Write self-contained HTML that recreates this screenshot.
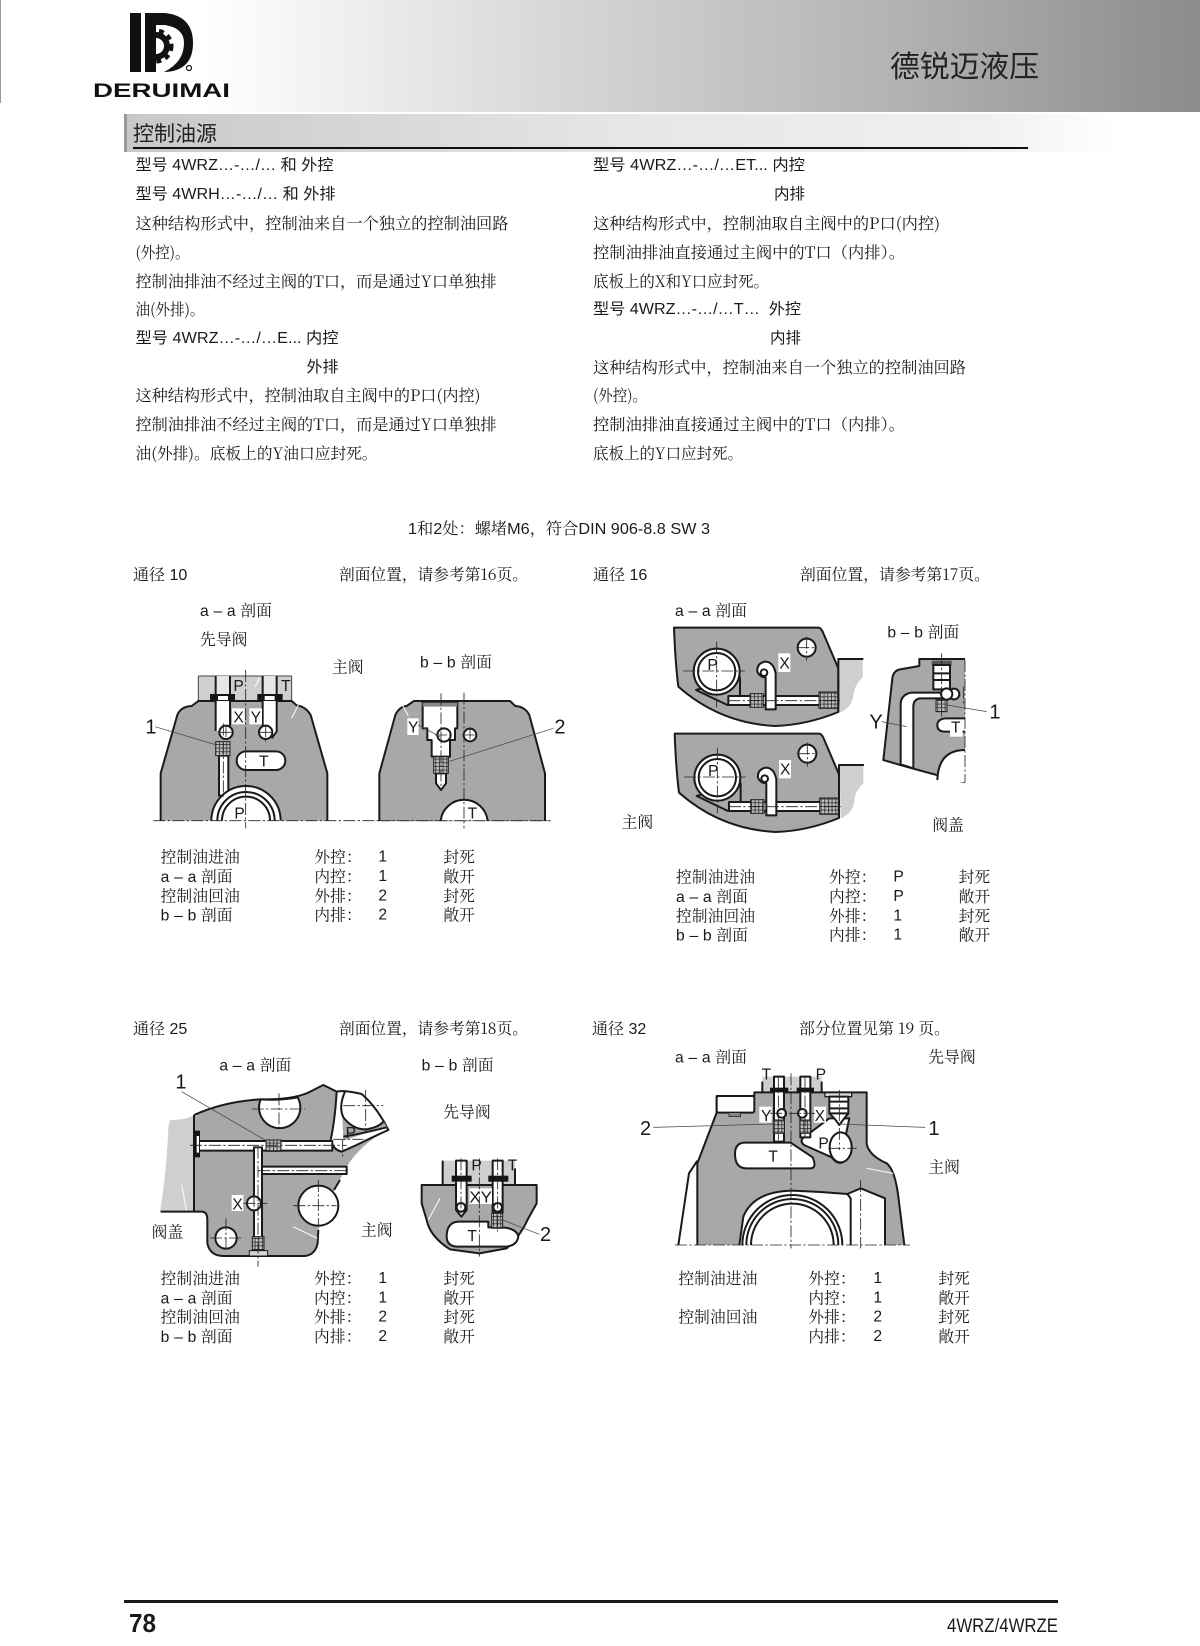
<!DOCTYPE html>
<html><head><meta charset="utf-8"><style>
html,body{margin:0;padding:0;background:#fff}
svg{display:block}
text{fill:#1a1a1a;white-space:pre}
.b{font-family:"Noto Serif CJK SC","Liberation Serif",serif;font-size:16px}
.m{font-family:"Liberation Sans","Noto Serif CJK SC",sans-serif;font-size:16px}
.g{font-family:"Liberation Sans","Noto Sans CJK SC",sans-serif;font-size:15.5px}
.t{font-family:"Liberation Sans","Noto Serif CJK SC",sans-serif;font-size:47px;letter-spacing:.6px}
.l{font-family:"Liberation Sans",sans-serif;font-size:47px}
.n{font-family:"Liberation Sans",sans-serif;font-size:60px}
.o{stroke:#1a1a1a;stroke-width:6;stroke-linejoin:round}
.f{fill:none;stroke:#1a1a1a;stroke-width:6;stroke-linejoin:round}
.w{fill:#fff}.y{fill:#a8a8a8}.p{fill:#cfcfcf}
.c{stroke:#222;stroke-width:2.5;stroke-dasharray:36 7 7 7;fill:none}
.d{stroke:#444;stroke-width:2.2;fill:none}
.e{stroke:#fff;stroke-width:3;fill:none}
.h{fill:url(#h);stroke:#222;stroke-width:3}
</style></head><body>
<svg xmlns="http://www.w3.org/2000/svg" width="1200" height="1646" viewBox="0 0 1200 1646">
<defs>
<linearGradient id="hg" x1="0" x2="1" y1="0" y2="0"><stop offset="0.17" stop-color="#fff"/><stop offset="0.5" stop-color="#d2d2d2"/><stop offset="0.75" stop-color="#b2b2b2"/><stop offset="1" stop-color="#8b8b8b"/></linearGradient>
<linearGradient id="sg" x1="0" x2="1" y1="0" y2="0"><stop offset="0" stop-color="#c8c8c8"/><stop offset="0.5" stop-color="#e6e6e6"/><stop offset="0.87" stop-color="#f0f0f0"/><stop offset="1" stop-color="#fff"/></linearGradient>
<pattern id="h" width="11" height="11" patternUnits="userSpaceOnUse"><rect width="11" height="11" fill="#bcbcbc"/><rect width="11" height="2.5" fill="#333"/><rect width="2.5" height="11" fill="#333"/></pattern>
<clipPath id="c1"><rect x="200" y="560" width="360" height="132"/></clipPath>
<clipPath id="cg"><rect x="156" y="20" width="30" height="52"/></clipPath>
<g id="d2a">
<path class="y o" d="M222,113H655Q662,113 668,125L715,235V366Q620,405 525,408Q360,400 235,290Q226,220 222,113Z"/>
<path class="p" d="M717,207H788V262Q762,285 760,320Q755,352 720,368Z"/>
<path class="f" d="M790,207H715V366"/>
<path class="y o" d="M288,300L382,345L420,315V262Z"/>
<circle class="w o" cx="350" cy="245" r="69"/>
<circle class="w o" cx="350" cy="245" r="56"/>
<rect class="w o" x="385" y="318" width="330" height="27"/>
<rect class="h" x="450" y="311" width="40" height="41"/>
<rect class="h" x="657" y="306" width="56" height="49"/>
<path class="w o" d="M497,358H527V250Q520,215 495,215Q470,220 472,245Q480,262 497,262Z"/>
<circle class="w o" cx="492" cy="248" r="10"/>
<circle class="w o" cx="620" cy="173" r="27"/>
<path class="c" d="M592,173H650M620,140V212M250,243H435M350,155V352M385,332H725"/>
</g>
</defs>
<rect width="1200" height="1646" fill="#fff"/>
<rect width="1200" height="112" fill="url(#hg)"/>
<rect x="0" y="0" width="1" height="103" fill="#999"/>
<!-- logo -->
<rect x="130" y="13" width="11" height="59" fill="#111"/>
<path fill="#111" d="M145,13H165Q193,16 193,43Q193,70 166,72H145Z"/>
<path fill="#fff" d="M156,25H165Q184,28 184,43Q184,62 164,72H156Z"/>
<g clip-path="url(#cg)">
<circle cx="156" cy="46" r="11" fill="none" stroke="#111" stroke-width="6"/>
<circle cx="156" cy="46" r="15.5" fill="none" stroke="#111" stroke-width="4" stroke-dasharray="5 4.5"/>
</g>
<circle cx="189" cy="68" r="2.5" fill="none" stroke="#111" stroke-width="1.2"/>
<text x="93" y="97" textLength="137" lengthAdjust="spacingAndGlyphs" style="font:bold 19px 'Liberation Sans',sans-serif;fill:#111">DERUIMAI</text>
<text x="890" y="77" textLength="149" lengthAdjust="spacingAndGlyphs" style="font:30px 'Noto Sans CJK SC','Liberation Sans',sans-serif;fill:#222">德锐迈液压</text>
<!-- section -->
<rect x="124" y="114" width="991" height="38" fill="url(#sg)"/>
<rect x="124" y="114" width="3" height="38" fill="#999"/>
<text x="133" y="141" style="font:21px 'Noto Sans CJK SC',sans-serif;fill:#222">控制油源</text>
<rect x="133" y="147" width="895" height="2" fill="#111"/>
<!-- left column -->
<text class="g" x="135.5" y="170" textLength="198" lengthAdjust="spacingAndGlyphs">型号 4WRZ…-…/… 和 外控</text>
<text class="g" x="135.5" y="199" textLength="200" lengthAdjust="spacingAndGlyphs">型号 4WRH…-…/… 和 外排</text>
<text class="b" x="135.5" y="229" textLength="373" lengthAdjust="spacingAndGlyphs">这种结构形式中，控制油来自一个独立的控制油回路</text>
<text class="b" x="135.5" y="258" textLength="54" lengthAdjust="spacingAndGlyphs">(外控)。</text>
<text class="b" x="135.5" y="287" textLength="361" lengthAdjust="spacingAndGlyphs">控制油排油不经过主阀的T口，而是通过Y口单独排</text>
<text class="b" x="135.5" y="315" textLength="69" lengthAdjust="spacingAndGlyphs">油(外排)。</text>
<text class="g" x="135.5" y="343" textLength="203" lengthAdjust="spacingAndGlyphs">型号 4WRZ…-…/…E... 内控</text>
<text class="g" x="306.5" y="372" textLength="32" lengthAdjust="spacingAndGlyphs">外排</text>
<text class="b" x="135.5" y="401" textLength="345" lengthAdjust="spacingAndGlyphs">这种结构形式中，控制油取自主阀中的P口(内控)</text>
<text class="b" x="135.5" y="430" textLength="361" lengthAdjust="spacingAndGlyphs">控制油排油不经过主阀的T口，而是通过Y口单独排</text>
<text class="b" x="135.5" y="459" textLength="242" lengthAdjust="spacingAndGlyphs">油(外排)。底板上的Y油口应封死。</text>
<!-- right column -->
<text class="g" x="593" y="170" textLength="212" lengthAdjust="spacingAndGlyphs">型号 4WRZ…-…/…ET... 内控</text>
<text class="g" x="774" y="199" textLength="31" lengthAdjust="spacingAndGlyphs">内排</text>
<text class="b" x="593" y="229" textLength="347" lengthAdjust="spacingAndGlyphs">这种结构形式中，控制油取自主阀中的P口(内控)</text>
<text class="b" x="593" y="258" textLength="312" lengthAdjust="spacingAndGlyphs">控制油排油直接通过主阀中的T口（内排）。</text>
<text class="b" x="593" y="287" textLength="176" lengthAdjust="spacingAndGlyphs">底板上的X和Y口应封死。</text>
<text class="g" x="593" y="314" textLength="208" lengthAdjust="spacingAndGlyphs">型号 4WRZ…-…/…T…  外控</text>
<text class="g" x="770" y="343" textLength="31" lengthAdjust="spacingAndGlyphs">内排</text>
<text class="b" x="593" y="373" textLength="373" lengthAdjust="spacingAndGlyphs">这种结构形式中，控制油来自一个独立的控制油回路</text>
<text class="b" x="593" y="401" textLength="54" lengthAdjust="spacingAndGlyphs">(外控)。</text>
<text class="b" x="593" y="430" textLength="312" lengthAdjust="spacingAndGlyphs">控制油排油直接通过主阀中的T口（内排）。</text>
<text class="b" x="593" y="459" textLength="150" lengthAdjust="spacingAndGlyphs">底板上的Y口应封死。</text>
<text class="m" x="408" y="534" textLength="302" lengthAdjust="spacingAndGlyphs">1和2处：螺堵M6，符合DIN 906-8.8 SW 3</text>
<!-- section headers -->
<text class="m" x="133" y="580">通径 10</text>
<text class="b" x="339" y="580" textLength="189" lengthAdjust="spacingAndGlyphs">剖面位置，请参考第16页。</text>
<text class="m" x="593" y="580">通径 16</text>
<text class="b" x="800" y="580" textLength="190" lengthAdjust="spacingAndGlyphs">剖面位置，请参考第17页。</text>
<text class="m" x="133" y="1034">通径 25</text>
<text class="b" x="339" y="1034" textLength="189" lengthAdjust="spacingAndGlyphs">剖面位置，请参考第18页。</text>
<text class="m" x="592" y="1034">通径 32</text>
<text class="b" x="799" y="1034" textLength="151" lengthAdjust="spacingAndGlyphs">部分位置见第 19 页。</text>

<!-- D1 -->
<g transform="translate(120,590) scale(.33333)">
<text class="t" x="240" y="78">a – a 剖面</text>
<text class="t" x="240" y="165">先导阀</text>
<text class="t" x="636" y="248">主阀</text>
<text class="t" x="900" y="232">b – b 剖面</text>
<rect class="p" x="235" y="258" width="280" height="75"/>
<path class="d" d="M235,258V333M515,258V333M235,258H515" style="stroke-width:3"/>
<path class="y" d="M122,692V550L172,375Q182,350 215,348L235,333H515L530,346Q558,350 572,375L622,550V692Z"/>
<path class="f" d="M122,692V550L172,375Q182,350 215,348L235,333H515L530,346Q558,350 572,375L622,550V692"/>
<rect x="287" y="258" width="43" height="60" fill="#e6e6e6"/><rect x="428" y="258" width="42" height="60" fill="#e6e6e6"/>
<rect class="w" x="287" y="318" width="43" height="105"/><rect class="w" x="428" y="318" width="42" height="115"/>
<path class="f" d="M287,258V423M330,258V423M428,258V445M470,258V425L455,445"/>
<rect x="270" y="312" width="75" height="21" fill="#151515"/><rect x="412" y="312" width="76" height="21" fill="#151515"/>
<rect x="294" y="318" width="30" height="12" fill="#fff"/><rect x="434" y="318" width="30" height="12" fill="#fff"/>
<circle class="w o" cx="318" cy="427" r="20"/><circle class="w o" cx="437" cy="427" r="20"/>
<rect class="w o" x="297" y="497" width="28" height="120"/>
<rect class="h" x="287" y="455" width="43" height="42"/>
<rect class="w o" x="350" y="484" width="146" height="56" rx="28"/>
<g clip-path="url(#c1)"><circle class="w o" cx="378" cy="692" r="104"/><circle class="w o" cx="378" cy="692" r="86"/><circle class="w o" cx="378" cy="692" r="72"/></g>
<rect x="336" y="355" width="38" height="48" class="w"/><rect x="388" y="355" width="38" height="48" class="w"/>
<path class="e" d="M515,385L535,345M405,290L420,262"/>
<path class="c" d="M377,240V715M100,692H1292M310,400V620M298,427H340M418,427H458M318,405V450M437,405V455"/>
<text class="l" x="340" y="303">P</text><text class="l" x="483" y="303">T</text><text class="l" x="340" y="398">X</text><text class="l" x="392" y="398">Y</text><text class="l" x="417" y="530">T</text><text class="l" x="343" y="685">P</text>
<path class="d" d="M105,410L290,465"/><text class="n" x="76" y="430">1</text>
<path class="y" d="M778,692V550L826,375Q838,350 860,348L882,333H1170L1186,348Q1215,350 1228,375L1275,550V692Z"/>
<path class="f" d="M778,692V550L826,375Q838,350 860,348L882,333H1170L1186,348Q1215,350 1228,375L1275,550V692"/>
<path class="w" d="M962,692A71,71 0 0 1 1103,692Z"/><path class="f" d="M962,692A71,71 0 0 1 1103,692"/>
<path class="w o" d="M908,338H1012V415H1005V450H990V500H935V450H922V415H908Z"/>
<rect x="908" y="338" width="104" height="12" fill="#888"/>
<path class="w o" d="M948,550H978V580L963,600L948,580Z"/>
<rect class="h" x="941" y="500" width="44" height="50"/>
<circle class="w o" cx="972" cy="435" r="20"/><circle class="w o" cx="1050" cy="435" r="19"/>
<path class="c" d="M1032,308V715M963,310V600M775,692H1292M945,435H998M1028,435H1072M1050,412V458"/>
<rect x="862" y="385" width="34" height="50" class="w"/>
<text class="l" x="864" y="428">Y</text><text class="l" x="1043" y="685">T</text>
<path class="d" d="M895,405L960,440M985,515L1300,415"/><path class="e" d="M847,345L865,378"/>
<text class="n" x="1303" y="430">2</text>
<text class="t" x="122" y="818">控制油进油</text><text class="t" x="122" y="876">a – a 剖面</text><text class="t" x="122" y="934">控制油回油</text><text class="t" x="122" y="992">b – b 剖面</text>
<text class="t" x="583" y="818">外控：</text><text class="t" x="583" y="876">内控：</text><text class="t" x="583" y="934">外排：</text><text class="t" x="583" y="992">内排：</text>
<text class="l" x="775" y="815">1</text><text class="l" x="775" y="873">1</text><text class="l" x="775" y="931">2</text><text class="l" x="775" y="989">2</text>
<text class="t" x="970" y="818">封死</text><text class="t" x="970" y="876">敞开</text><text class="t" x="970" y="934">封死</text><text class="t" x="970" y="992">敞开</text>
</g>

<!-- D2 -->
<g transform="translate(600,590) scale(.33333)">
<text class="t" x="225" y="78">a – a 剖面</text>
<text class="t" x="862" y="143">b – b 剖面</text>
<text class="t" x="65" y="712">主阀</text>
<text class="t" x="997" y="722">阀盖</text>
<use href="#d2a"/>
<use href="#d2a" transform="translate(2,318)"/>
<rect x="535" y="190" width="36" height="56" class="w"/><rect x="537" y="510" width="36" height="55" class="w"/>
<text class="l" x="538" y="236">X</text><text class="l" x="540" y="554">X</text>
<text class="l" x="322" y="240">P</text><text class="l" x="324" y="558">P</text>
<path class="y" d="M850,510L877,265Q880,242 900,238L958,228V207H1095V577Q950,540 850,510Z"/>
<path class="f" d="M1095,577Q950,540 850,510L877,265Q880,242 900,238L958,228V207H1095"/>
<path class="w o" d="M902,523V340Q905,312 935,308H1030V325H960Q940,328 940,350V535Z"/>
<path class="w" d="M1095,480Q1015,480 1012,570L1095,577Z"/><path class="f" d="M1095,480Q1015,480 1012,570"/>
<path class="w" d="M1095,385H1035Q1012,388 1012,405Q1012,425 1035,425H1095Z"/><path class="f" d="M1095,385H1035Q1012,388 1012,405Q1012,425 1035,425H1095"/>
<rect x="995" y="212" width="60" height="15" fill="#555"/>
<rect class="w o" x="1000" y="225" width="50" height="73"/>
<path class="f" d="M1000,250H1050M1000,270H1050"/>
<circle class="w o" cx="1062" cy="312" r="16"/><circle class="w o" cx="1040" cy="312" r="17"/>
<rect class="h" x="1008" y="330" width="33" height="35"/>
<rect x="1050" y="402" width="38" height="38" class="w"/>
<text class="l" x="1053" y="428">T</text>
<path class="c" d="M1025,190V380M1090,290V340M1095,210V577"/>
<rect x="1098" y="200" width="20" height="400" class="w"/>
<text class="n" x="808" y="415">Y</text>
<path class="d" d="M845,395L920,410M1040,345L1160,365"/>
<text class="n" x="1168" y="385">1</text>
<text class="t" x="228" y="878">控制油进油</text><text class="t" x="228" y="936">a – a 剖面</text><text class="t" x="228" y="994">控制油回油</text><text class="t" x="228" y="1052">b – b 剖面</text>
<text class="t" x="687" y="878">外控：</text><text class="t" x="687" y="936">内控：</text><text class="t" x="687" y="994">外排：</text><text class="t" x="687" y="1052">内排：</text>
<text class="l" x="880" y="875">P</text><text class="l" x="880" y="933">P</text><text class="l" x="880" y="991">1</text><text class="l" x="880" y="1049">1</text>
<text class="t" x="1076" y="878">封死</text><text class="t" x="1076" y="936">敞开</text><text class="t" x="1076" y="994">封死</text><text class="t" x="1076" y="1052">敞开</text>
</g>

<!-- D3 -->
<g transform="translate(130,1040) scale(.33333)">
<text class="t" x="268" y="92">a – a 剖面</text>
<text class="t" x="875" y="92">b – b 剖面</text>
<text class="t" x="940" y="232">先导阀</text>
<text class="t" x="693" y="587">主阀</text>
<text class="t" x="65" y="592">阀盖</text>
<path class="p" d="M120,240Q170,240 192,225V515H90Q110,400 115,260Z"/>
<path class="e" d="M155,435L170,515"/>
<path class="y" d="M192,225Q280,185 390,178Q480,180 530,160L580,135L620,155L775,270Q730,290 690,330Q650,370 630,420Q610,450 590,500L565,570L563,610Q555,645 525,648H280Q240,648 232,610V540Q232,515 215,515H192Z"/>
<path class="f" d="M192,225V515M92,515H215Q232,515 232,540V610Q240,648 280,648H525Q555,645 563,610L565,570M192,225Q280,185 390,178Q480,180 530,160L580,135L620,155M630,420L612,450"/>
<path class="w o" d="M392,178Q450,182 503,172A62,62 0 1 1 392,178Z"/>
<path class="w o" d="M620,155Q645,150 695,162Q740,200 775,270Q730,290 680,315L635,335Q610,330 602,300Q615,240 620,155Z"/>
<path class="y" d="M637,232Q670,270 715,268Q745,262 760,245L772,262Q730,268 700,282L640,302Z"/>
<path class="f" d="M645,155Q625,200 640,232Q670,270 710,268Q745,262 760,245M640,290Q700,280 770,262"/>
<circle class="w o" cx="565" cy="497" r="60"/>
<circle class="w o" cx="288" cy="594" r="32"/>
<rect class="w o" x="205" y="303" width="402" height="29"/>
<rect class="w o" x="385" y="380" width="265" height="22"/>
<rect class="w o" x="372" y="322" width="24" height="270"/>
<rect x="375" y="325" width="18" height="14" fill="#fff"/><rect x="375" y="375" width="14" height="30" fill="#fff"/>
<rect x="192" y="272" width="18" height="80" fill="#151515"/>
<rect x="200" y="288" width="7" height="50" fill="#fff"/>
<rect class="h" x="408" y="300" width="45" height="34"/>
<rect class="h" x="367" y="590" width="35" height="40"/>
<rect x="358" y="632" width="55" height="16" fill="#d6d6d6" stroke="#1a1a1a" stroke-width="3"/>
<circle class="w o" cx="372" cy="490" r="21"/>
<rect x="305" y="465" width="35" height="48" class="w"/>
<text class="l" x="307" y="508">X</text><text class="l" x="647" y="294">P</text>
<path class="c" d="M365,207H525M447,160V265M640,197H760M707,150V280M638,300V350M610,298H700M180,316H650M384,320V680M385,392H650M340,490H412M372,465V515M490,497H620M565,420V560M240,594H340M288,535V635"/>
<path class="e" d="M490,560L562,595"/>
<path class="d" d="M155,155L405,300"/>
<text class="n" x="136" y="146">1</text>
<!-- bb -->
<path class="p" d="M938,362H1155V432H938Z"/><path class="f" d="M938,362V432M1155,385V432"/>
<path class="y o" d="M875,435H1220V490L1195,535Q1170,590 1130,625L1048,640L960,628Q900,590 890,540L875,490Z"/>
<path class="w o" d="M950,590Q950,547 985,545H1075V562H1115Q1160,565 1165,590Q1160,620 1120,620H985Q950,620 950,590Z"/>
<path class="w o" d="M978,362H1010V510L994,530L978,510Z"/>
<rect class="w o" x="1088" y="362" width="30" height="155"/>
<rect x="965" y="407" width="60" height="18" fill="#151515"/><rect x="1075" y="407" width="60" height="18" fill="#151515"/>
<circle class="w o" cx="993" cy="502" r="13"/><circle class="w o" cx="1103" cy="502" r="13"/>
<rect class="h" x="1085" y="520" width="33" height="45"/>
<rect x="1018" y="445" width="68" height="47" class="w"/>
<path class="c" d="M1048,355V650M993,355V530M1103,355V575"/>
<path class="e" d="M930,475L895,540"/>
<text class="l" x="1024" y="392">P</text><text class="l" x="1133" y="392">T</text>
<text class="l" x="1018" y="488" textLength="68" lengthAdjust="spacingAndGlyphs">XY</text><text class="l" x="1012" y="603">T</text>
<path class="d" d="M1118,540L1228,583"/>
<text class="n" x="1230" y="603">2</text>
<text class="t" x="92" y="732">控制油进油</text><text class="t" x="92" y="790">a – a 剖面</text><text class="t" x="92" y="848">控制油回油</text><text class="t" x="92" y="906">b – b 剖面</text>
<text class="t" x="552" y="732">外控：</text><text class="t" x="552" y="790">内控：</text><text class="t" x="552" y="848">外排：</text><text class="t" x="552" y="906">内排：</text>
<text class="l" x="745" y="729">1</text><text class="l" x="745" y="787">1</text><text class="l" x="745" y="845">2</text><text class="l" x="745" y="903">2</text>
<text class="t" x="940" y="732">封死</text><text class="t" x="940" y="790">敞开</text><text class="t" x="940" y="848">封死</text><text class="t" x="940" y="906">敞开</text>
</g>

<!-- D4 -->
<g transform="translate(620,1040) scale(.33333)">
<text class="t" x="165" y="68">a – a 剖面</text>
<text class="t" x="925" y="68">先导阀</text>
<text class="t" x="925" y="398">主阀</text>
<rect class="p" x="427" y="110" width="178" height="47"/>
<path class="f" d="M427,125V157M605,125V157"/>
<path class="f" d="M175,615L207,400L232,362"/>
<path class="y" d="M232,615V370L290,218V168H403V157H740V310Q745,345 800,370Q825,390 835,470L853,615H795V475L722,445L682,462Q600,455 515,452Q400,455 370,530L355,615Z"/>
<path class="f" d="M232,615V370L290,218V168H403V157H740V310Q745,345 800,370Q825,390 835,470L853,615M795,615V475L722,445L682,462Q600,455 515,452Q400,455 370,530L358,615"/>
<rect class="w o" x="290" y="168" width="113" height="50" rx="6"/>
<rect x="327" y="218" width="35" height="12" fill="#888" stroke="#1a1a1a" stroke-width="2"/>
<path class="f" d="M682,462L692,475V615M367,615A150,150 0 0 1 667,615M379,615A138,138 0 0 1 655,615M393,615A124,124 0 0 1 641,615"/>
<path class="w o" d="M345,342Q345,308 375,308H512L578,352Q592,385 570,385H380Q345,385 345,342Z"/>
<path class="w o" d="M628,235L548,295Q540,305 552,315L635,352Q650,372 665,368Q695,355 695,322Q695,300 678,282L688,235Z"/>
<ellipse class="w o" cx="662" cy="322" rx="33" ry="45"/>
<rect class="w o" x="462" y="110" width="30" height="195"/>
<rect class="w o" x="541" y="110" width="30" height="182"/>
<rect x="450" y="143" width="55" height="14" fill="#151515"/><rect x="530" y="143" width="52" height="14" fill="#151515"/>
<rect class="h" x="460" y="240" width="33" height="40"/>
<rect class="h" x="540" y="240" width="32" height="40"/>
<circle class="w o" cx="485" cy="220" r="13"/><circle class="w o" cx="547" cy="220" r="13"/>
<rect x="615" y="158" width="80" height="12" fill="#ddd" stroke="#1a1a1a" stroke-width="4"/>
<path class="w o" d="M628,170H685V220L672,236L658,255L644,236L628,220Z"/>
<path class="f" d="M628,185H685M628,205H685M628,220H685"/>
<rect x="418" y="200" width="37" height="48" class="w"/><rect x="582" y="200" width="36" height="48" class="w"/>
<path class="c" d="M513,100V625M722,420V625M165,615H870M475,110V300M555,110V290M658,150V330M625,325H710M450,220H585"/>
<text class="l" x="423" y="243">Y</text><text class="l" x="584" y="243">X</text>
<text class="l" x="425" y="118">T</text><text class="l" x="587" y="118">P</text>
<text class="l" x="595" y="325">P</text><text class="l" x="445" y="365">T</text>
<path class="d" d="M100,262L460,252M655,252L915,262"/><path class="e" d="M740,385L820,400"/>
<text class="n" x="60" y="285">2</text><text class="n" x="925" y="285">1</text>
<text class="t" x="175" y="732">控制油进油</text><text class="t" x="175" y="848">控制油回油</text>
<text class="t" x="565" y="732">外控：</text><text class="t" x="565" y="790">内控：</text><text class="t" x="565" y="848">外排：</text><text class="t" x="565" y="906">内排：</text>
<text class="l" x="760" y="729">1</text><text class="l" x="760" y="787">1</text><text class="l" x="760" y="845">2</text><text class="l" x="760" y="903">2</text>
<text class="t" x="955" y="732">封死</text><text class="t" x="955" y="790">敞开</text><text class="t" x="955" y="848">封死</text><text class="t" x="955" y="906">敞开</text>
</g>

<!-- footer -->
<rect x="124" y="1600" width="934" height="3" fill="#1a1a1a"/>
<text x="129" y="1632" textLength="27" lengthAdjust="spacingAndGlyphs" style="font:bold 26px 'Liberation Sans',sans-serif">78</text>
<text x="947" y="1632" textLength="111" lengthAdjust="spacingAndGlyphs" style="font:19px 'Liberation Sans',sans-serif">4WRZ/4WRZE</text>
</svg>
</body></html>
